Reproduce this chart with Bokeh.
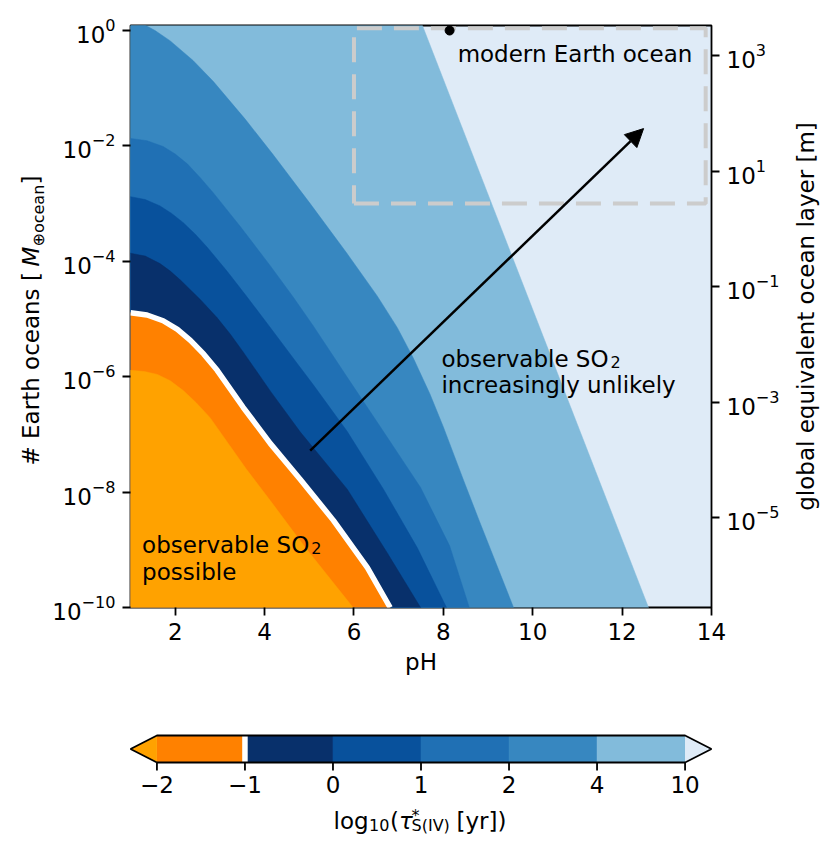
import numpy as np
from bokeh.plotting import figure
from bokeh.models import (Range1d, LogScale, LogAxis, FixedTicker, Label, Arrow,
                          NormalHead)
from bokeh.core.properties import value
from bokeh.layouts import column, row
from bokeh.embed import file_html
from bokeh.resources import INLINE

# ---------------- data ----------------
levels = [-2, -1, 0, 1, 2, 4, 10]
level_labels = ["\u22122", "\u22121", "0", "1", "2", "4", "10"]
# band colours: below -2, [-2,-1], [-1,0], [0,1], [1,2], [2,4], [4,10], above 10
band_colors = ["#ffa200", "#ff8100", "#08306b", "#08519c", "#2070b4",
               "#3787c0", "#82bbdb", "#dfebf7"]

# contour boundaries: pH and log10(# Earth oceans)
ph_m2 = [1.00, 1.31, 1.60, 1.89, 2.18, 2.47, 2.78, 3.19, 3.59, 4.13, 4.91, 5.98]
ly_m2 = [-5.89, -5.91, -5.96, -6.07, -6.24, -6.45, -6.71, -7.16, -7.60, -8.15, -8.96, -10.0]

ph_m1 = [1.00, 1.37, 1.73, 2.05, 2.34, 2.64, 2.94, 3.52, 4.13, 4.80, 5.54, 6.30, 6.81]
ly_m1 = [-4.89, -4.93, -5.03, -5.18, -5.37, -5.61, -5.89, -6.53, -7.16, -7.78, -8.49, -9.31, -10.0]

ph_0 = [1.00, 1.33, 1.66, 1.89, 2.11, 2.56, 2.94, 3.23, 3.52, 4.13, 4.80, 5.85, 6.75, 7.49]
ly_0 = [-3.86, -3.91, -4.04, -4.17, -4.32, -4.66, -4.98, -5.26, -5.57, -6.25, -6.96, -7.95, -9.06, -10.0]

ph_1 = [1.00, 1.33, 1.66, 1.92, 2.18, 2.45, 2.72, 3.17, 3.61, 4.13, 4.73, 5.09, 5.85, 6.66, 7.42, 8.07]
ly_1 = [-2.88, -2.93, -3.04, -3.17, -3.33, -3.53, -3.76, -4.18, -4.62, -5.15, -5.77, -6.14, -6.95, -7.95, -8.97, -10.0]

ph_2 = [1.00, 1.37, 1.73, 2.00, 2.27, 2.56, 2.85, 3.46, 4.13, 4.64, 5.09, 5.85, 6.60, 7.49, 8.14, 8.58]
ly_2 = [-1.87, -1.91, -2.01, -2.14, -2.31, -2.55, -2.81, -3.40, -4.08, -4.62, -5.12, -6.01, -6.88, -7.92, -8.93, -10.0]

ph_4 = [1.19, 1.55, 1.89, 2.40, 2.85, 3.57, 4.19, 5.02, 5.85, 6.52, 6.97, 7.33, 7.70, 8.00, 8.46, 8.80, 9.57]
ly_4 = [0.15, 0.00, -0.18, -0.52, -0.88, -1.54, -2.15, -3.00, -3.87, -4.60, -5.15, -5.68, -6.30, -6.87, -7.81, -8.49, -10.0]

ph_10 = [7.50, 12.64]
ly_10 = [0.15, -10.1]

boundaries = [(ph_m2, ly_m2), (ph_m1, ly_m1), (ph_0, ly_0), (ph_1, ly_1),
              (ph_2, ly_2), (ph_4, ly_4), (ph_10, ly_10)]

earth_ph = 8.14
earth_oceans = 1.0
box_ph = [6.0, 13.87]
box_oceans = [1e-3, 1.1]
arrow_ph = [5.02, 12.48]
arrow_log_oceans = [-7.28, -1.70]
ocean_layer_m = 2745.0  # metres of global equivalent layer per Earth ocean

x_ticks = [2, 4, 6, 8, 10, 12, 14]
y_ticks = [1e-10, 1e-8, 1e-6, 1e-4, 1e-2, 1e0]
y2_ticks = [1e-5, 1e-3, 1e-1, 1e1, 1e3]

FONT = "DejaVu Sans"
FS = "23px"
FS_SMALL = "16px"
MAIN_H = 688
YL_W = 48
YR_W = 38
FRAME_TOP, FRAME_BOT = 25, 607

# ---------------- main figure ----------------
y_lo, y_hi = 1e-10, 10 ** 0.087
p = figure(width=823 - YL_W - YR_W, height=MAIN_H, x_range=Range1d(1, 14),
           y_range=Range1d(y_lo, y_hi), title=None,
           y_axis_type="log", output_backend="svg", toolbar_location=None,
           min_border_left=130 - YL_W, min_border_right=823 - YR_W - 711,
           min_border_top=FRAME_TOP, min_border_bottom=MAIN_H - FRAME_BOT)
p.background_fill_color = band_colors[-1]
p.border_fill_color = "white"
p.outline_line_color = "black"
p.outline_line_width = 1.8
p.grid.visible = False

for i in range(len(levels) - 1, -1, -1):
    bph, bly = boundaries[i]
    xs = [0.0] + list(bph) + [bph[-1], 0.0]
    ys = [10 ** bly[0]] + [10 ** v for v in bly] + [1e-11, 1e-11]
    p.patch(xs, ys, fill_color=band_colors[i], line_color=band_colors[i], line_width=0.5)

p.line(ph_m1, [10 ** v for v in ly_m1], line_color="white", line_width=5.5)

bx = [box_ph[0], box_ph[1], box_ph[1], box_ph[0], box_ph[0]]
by = [box_oceans[0], box_oceans[0], box_oceans[1], box_oceans[1], box_oceans[0]]
p.line(bx, by, line_color="#cccccc", line_width=4, line_dash="25 12")

p.add_layout(Arrow(end=NormalHead(size=18, fill_color="black", line_color="black"),
                   x_start=arrow_ph[0], y_start=10 ** arrow_log_oceans[0],
                   x_end=arrow_ph[1], y_end=10 ** arrow_log_oceans[1],
                   line_width=2.5, line_color="black"))

p.scatter([earth_ph], [earth_oceans], size=9, color="black")


def lab(fig, x, y, text, size=FS, style="normal", angle=0.0, align="left",
        baseline="alphabetic"):
    fig.add_layout(Label(x=x, y=y, text=text, text_font=FONT, text_font_size=size,
                         text_font_style=style, text_color="black", angle=angle,
                         text_align=align, text_baseline=baseline))


lab(p, 8.32, 10 ** -0.40, "modern Earth ocean")
lab(p, 7.957, 10 ** -5.685, "observable SO")
lab(p, 11.742, 10 ** -5.737, "2", size=FS_SMALL)
lab(p, 7.957, 10 ** -6.146, " increasingly unlikely")
lab(p, 1.26, 10 ** -8.925, "observable SO")
lab(p, 5.046, 10 ** -8.977, "2", size=FS_SMALL)
lab(p, 1.26, 10 ** -9.386, "possible")


def style_axis(ax):
    ax.axis_line_color = None
    ax.major_tick_out = 8
    ax.major_tick_in = 0
    ax.minor_tick_out = 0
    ax.minor_tick_in = 0
    ax.major_tick_line_width = 1.8
    ax.major_tick_line_color = "black"
    ax.major_label_text_font = FONT
    ax.major_label_text_font_size = FS
    ax.major_label_text_color = "black"
    ax.major_label_standoff = 7
    ax.axis_label_text_font = FONT
    ax.axis_label_text_font_size = FS
    ax.axis_label_text_font_style = "normal"
    ax.axis_label_text_color = "black"
    ax.axis_label_standoff = 6


style_axis(p.xaxis[0])
style_axis(p.yaxis[0])
p.xaxis.ticker = FixedTicker(ticks=x_ticks)
p.xaxis.axis_label = "pH"
p.yaxis.ticker = FixedTicker(ticks=y_ticks)

p.extra_y_ranges = {"layer": Range1d(y_lo * ocean_layer_m, y_hi * ocean_layer_m)}
p.extra_y_scales = {"layer": LogScale()}
ax2 = LogAxis(y_range_name="layer", ticker=FixedTicker(ticks=y2_ticks))
style_axis(ax2)
p.add_layout(ax2, "right")


def text_fig(width, height, x_range, y_range, **kw):
    f = figure(width=width, height=height, x_range=x_range, y_range=y_range,
               title=None, output_backend="svg", toolbar_location=None,
               x_axis_location=None, y_axis_location=None, **kw)
    f.outline_line_color = None
    f.grid.visible = False
    f.background_fill_color = "white"
    f.border_fill_color = "white"
    return f


def put(f, x, y, text, size=FS, style="normal", angle=0.0, align="left",
        baseline="alphabetic"):
    f.text(x=[x], y=[y], text=[text], angle=angle, text_font=value(FONT),
           text_font_size=value(size), text_font_style=value(style),
           text_color="black", text_align=value(align), text_baseline=value(baseline))


# side label figures: frames are aligned with the main frame (page rows 25..607);
# y data = minus the page row
side_kw = dict(min_border_left=0, min_border_right=0, min_border_top=FRAME_TOP,
               min_border_bottom=MAIN_H - FRAME_BOT)
yl = text_fig(YL_W, MAIN_H, Range1d(0, YL_W), Range1d(-FRAME_BOT, -FRAME_TOP), **side_kw)
mid_x = 30.9
sub_mid_x = 37.6
rot = np.pi / 2
lab(yl, mid_x, -465, "# Earth oceans [", angle=rot, baseline="middle")
lab(yl, mid_x, -266, "M", style="italic", angle=rot, baseline="middle")
lab(yl, sub_mid_x, -246, "\u2295ocean", size=FS_SMALL, angle=rot, baseline="middle")
lab(yl, mid_x, -184, "]", angle=rot, baseline="middle")

yr = text_fig(YR_W, MAIN_H, Range1d(823 - YR_W, 823), Range1d(-FRAME_BOT, -FRAME_TOP), **side_kw)
lab(yr, 805.5, -316, "global equivalent ocean layer [m]", angle=rot, align="center",
    baseline="middle")

# ---------------- colour bar (x: level index, y: pixels from bottom) ----------------
CB_H = 854 - MAIN_H
cb = figure(width=823, height=CB_H, x_range=Range1d(-0.323, 6.323),
            y_range=Range1d(0, CB_H), title=None, output_backend="svg",
            toolbar_location=None, x_axis_location=None, y_axis_location=None,
            min_border_left=128, min_border_right=110, min_border_top=0,
            min_border_bottom=0)
cb.outline_line_color = None
cb.grid.visible = False
bar_bot, bar_top = 854 - 762, 854 - 735
bar_mid = 0.5 * (bar_bot + bar_top)
nb = len(levels) - 1
cb.quad(left=list(range(nb)), right=list(range(1, nb + 1)), bottom=bar_bot, top=bar_top,
        fill_color=band_colors[1:1 + nb], line_color=band_colors[1:1 + nb], line_width=0.5)
cb.patch([-0.3, 0, 0], [bar_mid, bar_bot, bar_top], fill_color=band_colors[0], line_color=None)
cb.patch([nb, nb + 0.3, nb], [bar_bot, bar_mid, bar_top], fill_color=band_colors[-1],
         line_color=None)
cb.line([1, 1], [bar_bot, bar_top], line_color="white", line_width=5.5)
cb.line([0, -0.3, 0, nb, nb + 0.3, nb, 0],
        [bar_bot, bar_mid, bar_top, bar_top, bar_mid, bar_bot, bar_bot],
        line_color="black", line_width=1.8)
ticks_i = list(range(nb + 1))
cb.segment(x0=ticks_i, y0=[bar_bot] * len(ticks_i), x1=ticks_i, y1=[bar_bot - 8] * len(ticks_i),
           line_color="black", line_width=1.8)
cb.text(x=ticks_i, y=[854 - 784] * len(ticks_i), text=level_labels, text_font=value(FONT),
        text_font_size=value(FS), text_color="black", text_align="center",
        text_baseline="middle")


def cbx(px):
    return (px - 156.4) / 88.03


BL = 820
put(cb, cbx(333), 854 - BL, "log")
put(cb, cbx(368.5), 854 - (BL + 4), "10", size=FS_SMALL)
put(cb, cbx(389.5), 854 - BL, "(")
put(cb, cbx(398.5), 854 - BL, "\u03c4", style="italic")
put(cb, cbx(411), 854 - (BL - 5), "*", size=FS_SMALL)
put(cb, cbx(411), 854 - (BL + 5), "S(IV)", size=FS_SMALL)
put(cb, cbx(456), 854 - BL, "[yr])")

layout = column(row(yl, p, yr), cb)
open("out.html", "w").write(file_html(layout, INLINE))
